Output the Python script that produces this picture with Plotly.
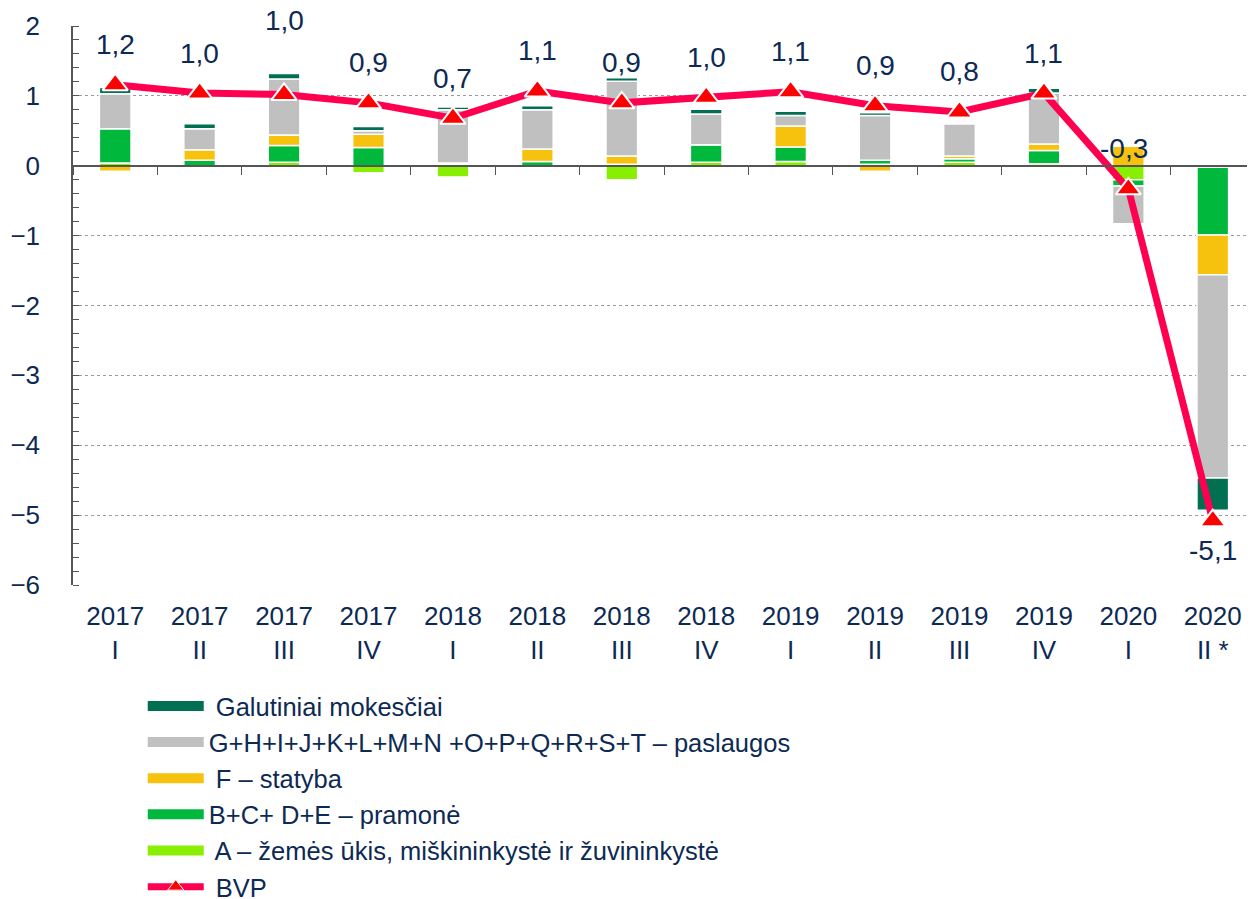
import plotly.graph_objects as go

categories = ["2017<br>I", "2017<br>II", "2017<br>III", "2017<br>IV",
              "2018<br>I", "2018<br>II", "2018<br>III", "2018<br>IV",
              "2019<br>I", "2019<br>II", "2019<br>III", "2019<br>IV",
              "2020<br>I", "2020<br>II *"]

agri = [0.04, 0.0, 0.05, -0.10, -0.16, 0.0, -0.20, 0.05, 0.06, 0.02, 0.05, 0.03, -0.20, -0.02]
industry = [0.49, 0.08, 0.24, 0.26, 0.02, 0.06, 0.02, 0.25, 0.21, 0.06, 0.05, 0.19, -0.09, -0.97]
construction = [-0.08, 0.15, 0.15, 0.19, 0.02, 0.18, 0.12, 0.0, 0.30, -0.08, 0.04, 0.09, 0.28, -0.57]
services = [0.50, 0.30, 0.80, 0.05, 0.76, 0.56, 1.07, 0.44, 0.15, 0.64, 0.46, 0.73, -0.54, -2.91]
taxes = [0.09, 0.07, 0.08, 0.06, 0.04, 0.06, 0.05, 0.07, 0.06, 0.04, 0.02, 0.07, 0.0, -0.46]
gdp = [1.16, 1.04, 1.02, 0.90, 0.68, 1.07, 0.90, 0.98, 1.06, 0.86, 0.77, 1.04, -0.33, -5.08]
gdp_labels = ["1,2", "1,0", "1,0", "0,9", "0,7", "1,1", "0,9", "1,0", "1,1", "0,9", "0,8", "1,1", "-0,3", "-5,1"]

names = {
    "taxes": " Galutiniai mokesčiai",
    "services": "G+H+I+J+K+L+M+N +O+P+Q+R+S+T – paslaugos",
    "construction": " F – statyba",
    "industry": "B+C+ D+E – pramonė",
    "agri": " A – žemės ūkis, miškininkystė ir žuvininkystė",
    "gdp": " BVP",
}
colors = {
    "taxes": "#006f52",
    "services": "#c0c0c0",
    "construction": "#f6c20e",
    "industry": "#00b83c",
    "agri": "#88ef00",
    "gdp_line": "#ff0050",
    "gdp_marker": "#ff0000",
}

NAVY = "#0c2a53"
FONT = "Liberation Sans, Arial, sans-serif"

fig = go.Figure()

series = [("agri", agri), ("industry", industry), ("construction", construction),
          ("services", services), ("taxes", taxes)]
for key, vals in series:
    fig.add_trace(go.Bar(
        x=categories, y=vals, name=names[key], showlegend=False,
        marker=dict(color=colors[key], line=dict(color="white", width=1.5)),
    ))

fig.add_trace(go.Scatter(
    x=categories, y=gdp, mode="lines+markers", name=names["gdp"], showlegend=False,
    line=dict(color=colors["gdp_line"], width=7),
    marker=dict(symbol="triangle-up", size=22, color=colors["gdp_marker"],
                line=dict(color="white", width=2)),
))

# invisible trace to carry the zero-line axis with boundary ticks
fig.add_trace(go.Scatter(x=categories, y=[None] * len(categories), xaxis="x2",
                         showlegend=False, hoverinfo="skip", mode="markers"))

# legend entries (wide swatches)
legend_order = ["taxes", "services", "construction", "industry", "agri"]
for key in legend_order:
    fig.add_trace(go.Scatter(
        x=[None], y=[None], mode="lines", name=names[key], legendgroup=key,
        line=dict(color=colors[key], width=10),
    ))
fig.add_trace(go.Scatter(
    x=[None], y=[None], mode="lines+markers", name=names["gdp"], legendgroup="gdp",
    line=dict(color=colors["gdp_line"], width=7),
    marker=dict(symbol="triangle-up", size=14, color=colors["gdp_marker"],
                line=dict(color="white", width=1)),
))

label_shift = {2: 74, 13: -30}
for i, (cat, v, lab) in enumerate(zip(categories, gdp, gdp_labels)):
    fig.add_annotation(
        x=cat, y=v, text=lab, showarrow=False,
        yshift=label_shift.get(i, 40), xshift=-4 if i == 12 else 0,
        font=dict(family=FONT, size=28, color=NAVY),
    )

fig.update_layout(
    width=1247, height=891,
    margin=dict(l=65, r=0, t=18, b=314, autoexpand=False),
    paper_bgcolor="white", plot_bgcolor="white",
    barmode="relative", bargap=0.625,
    font=dict(family=FONT, color=NAVY),
    showlegend=True,
    legend=dict(
        x=0.059, y=-0.175,
        xanchor="left", yanchor="top",
        font=dict(family=FONT, size=25.5, color=NAVY),
        traceorder="grouped", tracegroupgap=0, itemwidth=56,
        bgcolor="rgba(0,0,0,0)",
    ),
    xaxis=dict(
        type="category", range=[-0.5, 13.5], showgrid=False, showline=False,
        ticks="outside", ticklen=8, tickcolor="rgba(0,0,0,0)",
        tickfont=dict(family=FONT, size=26, color=NAVY), tickangle=0,
    ),
    xaxis2=dict(
        type="category", overlaying="x", anchor="free", position=0.75,
        range=[-0.5, 13.5], showgrid=False, showline=True, linecolor="#555555",
        linewidth=1.5, ticks="outside", ticklen=8, tickcolor="#555555",
        tickson="boundaries", showticklabels=False,
    ),
    yaxis=dict(
        range=[-6, 2], dtick=1, showgrid=True, gridcolor="#9a9a9a",
        griddash="dot", gridwidth=1, zeroline=False, showline=True,
        linecolor="#555555", linewidth=1.5,
        ticks="outside", ticklen=26, tickcolor="rgba(0,0,0,0)",
        tickfont=dict(family=FONT, size=26, color=NAVY),
        minor=dict(dtick=0.2, ticks="inside", ticklen=6, tickcolor="#555555",
                   showgrid=False),
    ),
)

fig.write_html("out.html")
